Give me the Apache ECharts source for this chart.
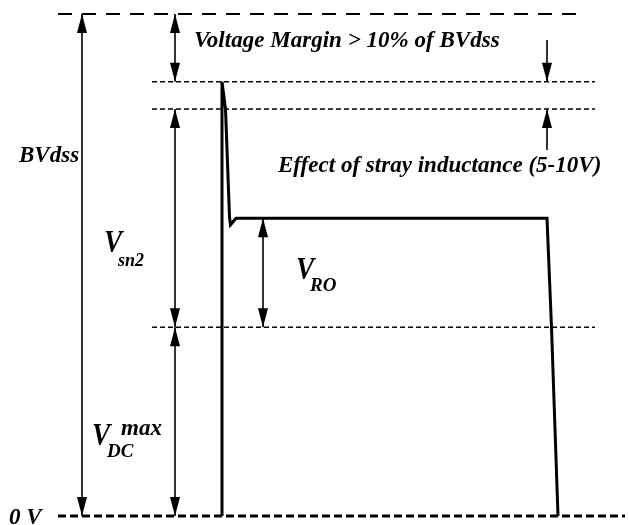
<!DOCTYPE html>
<html>
<head>
<meta charset="utf-8">
<script src="https://cdn.jsdelivr.net/npm/echarts@6/dist/echarts.min.js"></script>
<style>
  html, body { margin: 0; padding: 0; background: #fff; }
  #chart { width: 629px; height: 525px; }
</style>
</head>
<body>
<div id="chart"></div>
<script>
// drain voltage waveform (time in arbitrary units, voltage as % of BVdss)
const waveTime = [222, 222, 225.5, 229.5, 230.5, 236, 547, 551.5, 558]
const waveVolt = [0, 86.5, 81.1, 59.5, 58.0, 59.3, 59.3, 37.6, 0]

// dashed reference levels
const levelVolt = [100, 86.5, 81.1, 37.6, 0]
const levelStart = [58, 152, 152, 152, 58]
const levelEnd = [582, 595, 595, 595, 625]

// double arrows: BVdss, margin, Vsn2, VDCmax, VRO
const arrowTime = [82, 175, 175, 175, 263]
const arrowFrom = [0, 86.5, 37.6, 0, 37.6]
const arrowTo = [100, 100, 81.1, 37.6, 59.3]

// single arrows pointing at the stray inductance band
const strayTime = [547, 547]
const strayFrom = [94.8, 72.9]
const strayTo = [86.5, 81.1]

const chart = echarts.init(document.getElementById('chart'))

const FONT = '"Liberation Serif", "Times New Roman", serif'

function arrowRender (both) {
  return function (params, api) {
    const a = api.coord([api.value(0), api.value(1)])
    const b = api.coord([api.value(0), api.value(2)])
    const dx = b[0] - a[0]
    const dy = b[1] - a[1]
    const len = Math.sqrt(dx * dx + dy * dy) || 1
    const ux = dx / len
    const uy = dy / len
    const L = 19
    const W = 5
    const head = (p, sx, sy) => [
      [p[0], p[1]],
      [p[0] - sx * L - sy * W, p[1] - sy * L + sx * W],
      [p[0] - sx * L + sy * W, p[1] - sy * L - sx * W]
    ]
    const children = [{
      type: 'line',
      shape: { x1: a[0], y1: a[1], x2: b[0], y2: b[1] },
      style: { stroke: '#000', lineWidth: 1.6 }
    }, {
      type: 'polygon',
      shape: { points: head(b, ux, uy) },
      style: { fill: '#000' }
    }]
    if (both) {
      children.push({
        type: 'polygon',
        shape: { points: head(a, -ux, -uy) },
        style: { fill: '#000' }
      })
    }
    return { type: 'group', children: children }
  }
}

const levelStyles = [
  { width: 2, type: [14, 10] },
  { width: 1.5, type: [5, 3] },
  { width: 1.5, type: [5, 3] },
  { width: 1.5, type: [5, 3] },
  { width: 3, type: [8, 4] }
]

const levelSeries = levelVolt.map((v, i) => ({
  type: 'line',
  data: [[levelStart[i], v], [levelEnd[i], v]],
  symbol: 'none',
  clip: false,
  silent: true,
  lineStyle: { color: '#000', width: levelStyles[i].width, type: levelStyles[i].type }
}))

// italic bold serif label; sx squeezes it a little like the original figure
function txt (text, x, y, size, sx) {
  return {
    type: 'text',
    x: x,
    y: y,
    scaleX: sx || 1,
    style: {
      text: text,
      fontFamily: FONT,
      fontStyle: 'italic',
      fontWeight: 'bold',
      fontSize: size,
      fill: '#000',
      verticalAlign: 'middle'
    }
  }
}

const option = {
  animation: false,
  grid: { left: 0, right: 0, top: 14, bottom: 9 },
  xAxis: { type: 'value', min: 0, max: 629, show: false },
  yAxis: { type: 'value', min: 0, max: 100, show: false },
  series: [
    ...levelSeries,
    {
      type: 'line',
      data: waveTime.map((t, i) => [t, waveVolt[i]]),
      symbol: 'none',
      clip: false,
      lineStyle: { color: '#000', width: 3, join: 'miter' }
    },
    {
      type: 'custom',
      renderItem: arrowRender(true),
      clip: false,
      encode: { x: 0, y: [1, 2] },
      data: arrowTime.map((t, i) => [t, arrowFrom[i], arrowTo[i]])
    },
    {
      type: 'custom',
      renderItem: arrowRender(false),
      clip: false,
      encode: { x: 0, y: [1, 2] },
      data: strayTime.map((t, i) => [t, strayFrom[i], strayTo[i]])
    }
  ],
  graphic: [
    txt('Voltage Margin > 10% of BVdss', 194, 41, 24, 0.96),
    txt('BVdss', 19, 156, 24, 0.96),
    txt('Effect of stray inductance (5-10V)', 278, 166, 24, 0.96),
    txt('V', 104, 244, 31, 0.88),
    txt('sn2', 118, 261, 18),
    txt('V', 296, 271, 31, 0.88),
    txt('RO', 310, 286, 19),
    txt('V', 92, 437, 31, 0.88),
    txt('DC', 107, 452, 19),
    txt('max', 121, 429, 23),
    txt('0 V', 9, 518, 23)
  ]
}

chart.setOption(option)
</script>
</body>
</html>
